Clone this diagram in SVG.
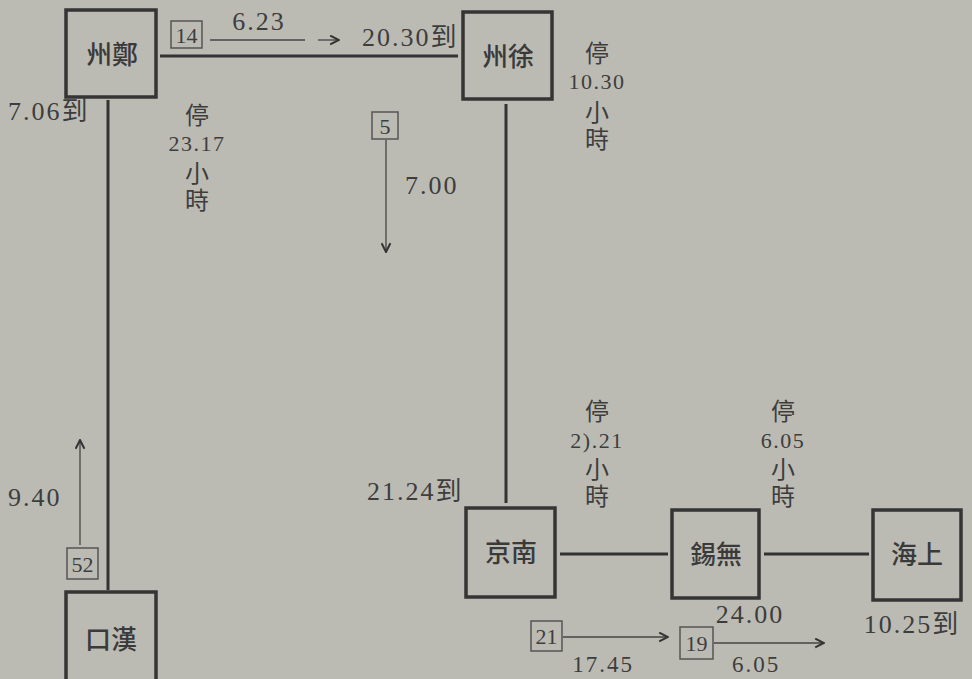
<svg xmlns="http://www.w3.org/2000/svg" width="972" height="679" viewBox="0 0 972 679">
<style>
.bg{fill:#bbbbb4}
.box{fill:none;stroke:#353535;stroke-width:3.5}
.nl{font-family:"Noto Sans CJK TC","Noto Sans CJK SC",sans-serif;font-size:26px;font-weight:500;fill:#3a3a3a;text-anchor:middle}
.t{font-family:"Liberation Serif","Noto Sans CJK TC",serif;font-size:26px;letter-spacing:2px;fill:#3d3d3d}
.c{font-family:"Liberation Serif","Noto Sans CJK TC",serif;font-size:22px;letter-spacing:1.5px;fill:#3d3d3d;text-anchor:middle}
.k{font-family:"Liberation Serif","Noto Sans CJK TC",serif;font-size:24px;fill:#3d3d3d;text-anchor:middle}
.m{text-anchor:middle}
.tag{fill:none;stroke:#555;stroke-width:1.5}
.tn{font-family:"Liberation Serif",serif;font-size:22px;fill:#3d3d3d;text-anchor:middle}
.rail{stroke:#333;stroke-width:3;fill:none}
.thin{stroke:#444;stroke-width:1.3;fill:none}
</style>
<defs>
<marker id="ah" viewBox="0 0 10 10" refX="9" refY="5" markerWidth="11" markerHeight="11" markerUnits="userSpaceOnUse" orient="auto">
<path d="M1,1 L9,5 L1,9" fill="none" stroke="#333" stroke-width="1.8"/>
</marker>
</defs>
<rect class="bg" x="0" y="0" width="972" height="679"/>

<g id="connectors">
<line class="rail" x1="160" y1="56" x2="458" y2="56"/>
<line class="rail" x1="108" y1="100" x2="108" y2="590"/>
<line class="rail" x1="506" y1="104" x2="506" y2="503"/>
<line class="rail" x1="560" y1="554" x2="668" y2="554"/>
<line class="rail" x1="764" y1="554" x2="869" y2="554"/>
</g>

<g id="node-zhengzhou">
<rect class="box" x="66" y="10" width="90" height="87"/>
<text class="nl" x="112" y="64">州鄭</text>
</g>
<g id="node-xuzhou">
<rect class="box" x="463" y="12" width="89" height="87"/>
<text class="nl" x="508" y="66">州徐</text>
</g>
<g id="node-nanjing">
<rect class="box" x="466" y="508" width="89" height="89"/>
<text class="nl" x="511" y="562">京南</text>
</g>
<g id="node-wuxi">
<rect class="box" x="672" y="510" width="87" height="88"/>
<text class="nl" x="716" y="564">錫無</text>
</g>
<g id="node-shanghai">
<rect class="box" x="873" y="510" width="88" height="90"/>
<text class="nl" x="917" y="564">海上</text>
</g>
<g id="node-hankou">
<rect class="box" x="66" y="592" width="90" height="100"/>
<text class="nl" x="111" y="649">口漢</text>
</g>

<g id="train-14">
<rect class="tag" x="171" y="21" width="31" height="27"/>
<text class="tn" x="186.500" y="43">14</text>
<text class="t m" x="259" y="30">6.23</text>
<line class="thin" x1="210" y1="40" x2="305" y2="40"/>
<line class="thin" x1="318" y1="40" x2="339" y2="40" marker-end="url(#ah)"/>
<text class="t" x="362" y="46">20.30到</text>
</g>

<g id="train-5">
<rect class="tag" x="372" y="112" width="26" height="27"/>
<text class="tn" x="385" y="134">5</text>
<line class="thin" x1="386" y1="140" x2="386" y2="252" marker-end="url(#ah)"/>
<text class="t" x="405" y="194">7.00</text>
</g>

<g id="train-52">
<rect class="tag" x="67" y="548" width="31" height="31"/>
<text class="tn" x="82.500" y="572">52</text>
<line class="thin" x1="80" y1="545" x2="80" y2="440" marker-end="url(#ah)"/>
<text class="t" x="8" y="506">9.40</text>
</g>

<g id="train-21-19">
<rect class="tag" x="531" y="621" width="31" height="30"/>
<text class="tn" x="546.500" y="644">21</text>
<line class="thin" x1="563" y1="637" x2="668" y2="637" marker-end="url(#ah)"/>
<rect class="tag" x="680" y="627" width="33" height="32"/>
<text class="tn" x="696.500" y="651">19</text>
<line class="thin" x1="714" y1="643" x2="824" y2="643" marker-end="url(#ah)"/>
<text class="t m" x="603" y="672" style="font-size:23px">17.45</text>
<text class="t m" x="756" y="672" style="font-size:23px">6.05</text>
</g>

<g id="labels">
<text class="t" x="8" y="120">7.06到</text>
<text class="k" x="197" y="124">停</text>
<text class="c" x="197" y="151">23.17</text>
<text class="k" x="197" y="182">小</text>
<text class="k" x="197" y="209">時</text>

<text class="k" x="597" y="62">停</text>
<text class="c" x="597" y="89">10.30</text>
<text class="k" x="597" y="121">小</text>
<text class="k" x="597" y="148">時</text>

<text class="t" x="367" y="500">21.24到</text>
<text class="k" x="597" y="420">停</text>
<text class="c" x="597" y="448">2).21</text>
<text class="k" x="597" y="478">小</text>
<text class="k" x="597" y="505">時</text>

<text class="k" x="783" y="420">停</text>
<text class="c" x="783" y="448">6.05</text>
<text class="k" x="783" y="478">小</text>
<text class="k" x="783" y="505">時</text>

<text class="t m" x="750" y="623">24.00</text>
<text class="t m" x="912" y="633">10.25到</text>
</g>
</svg>
